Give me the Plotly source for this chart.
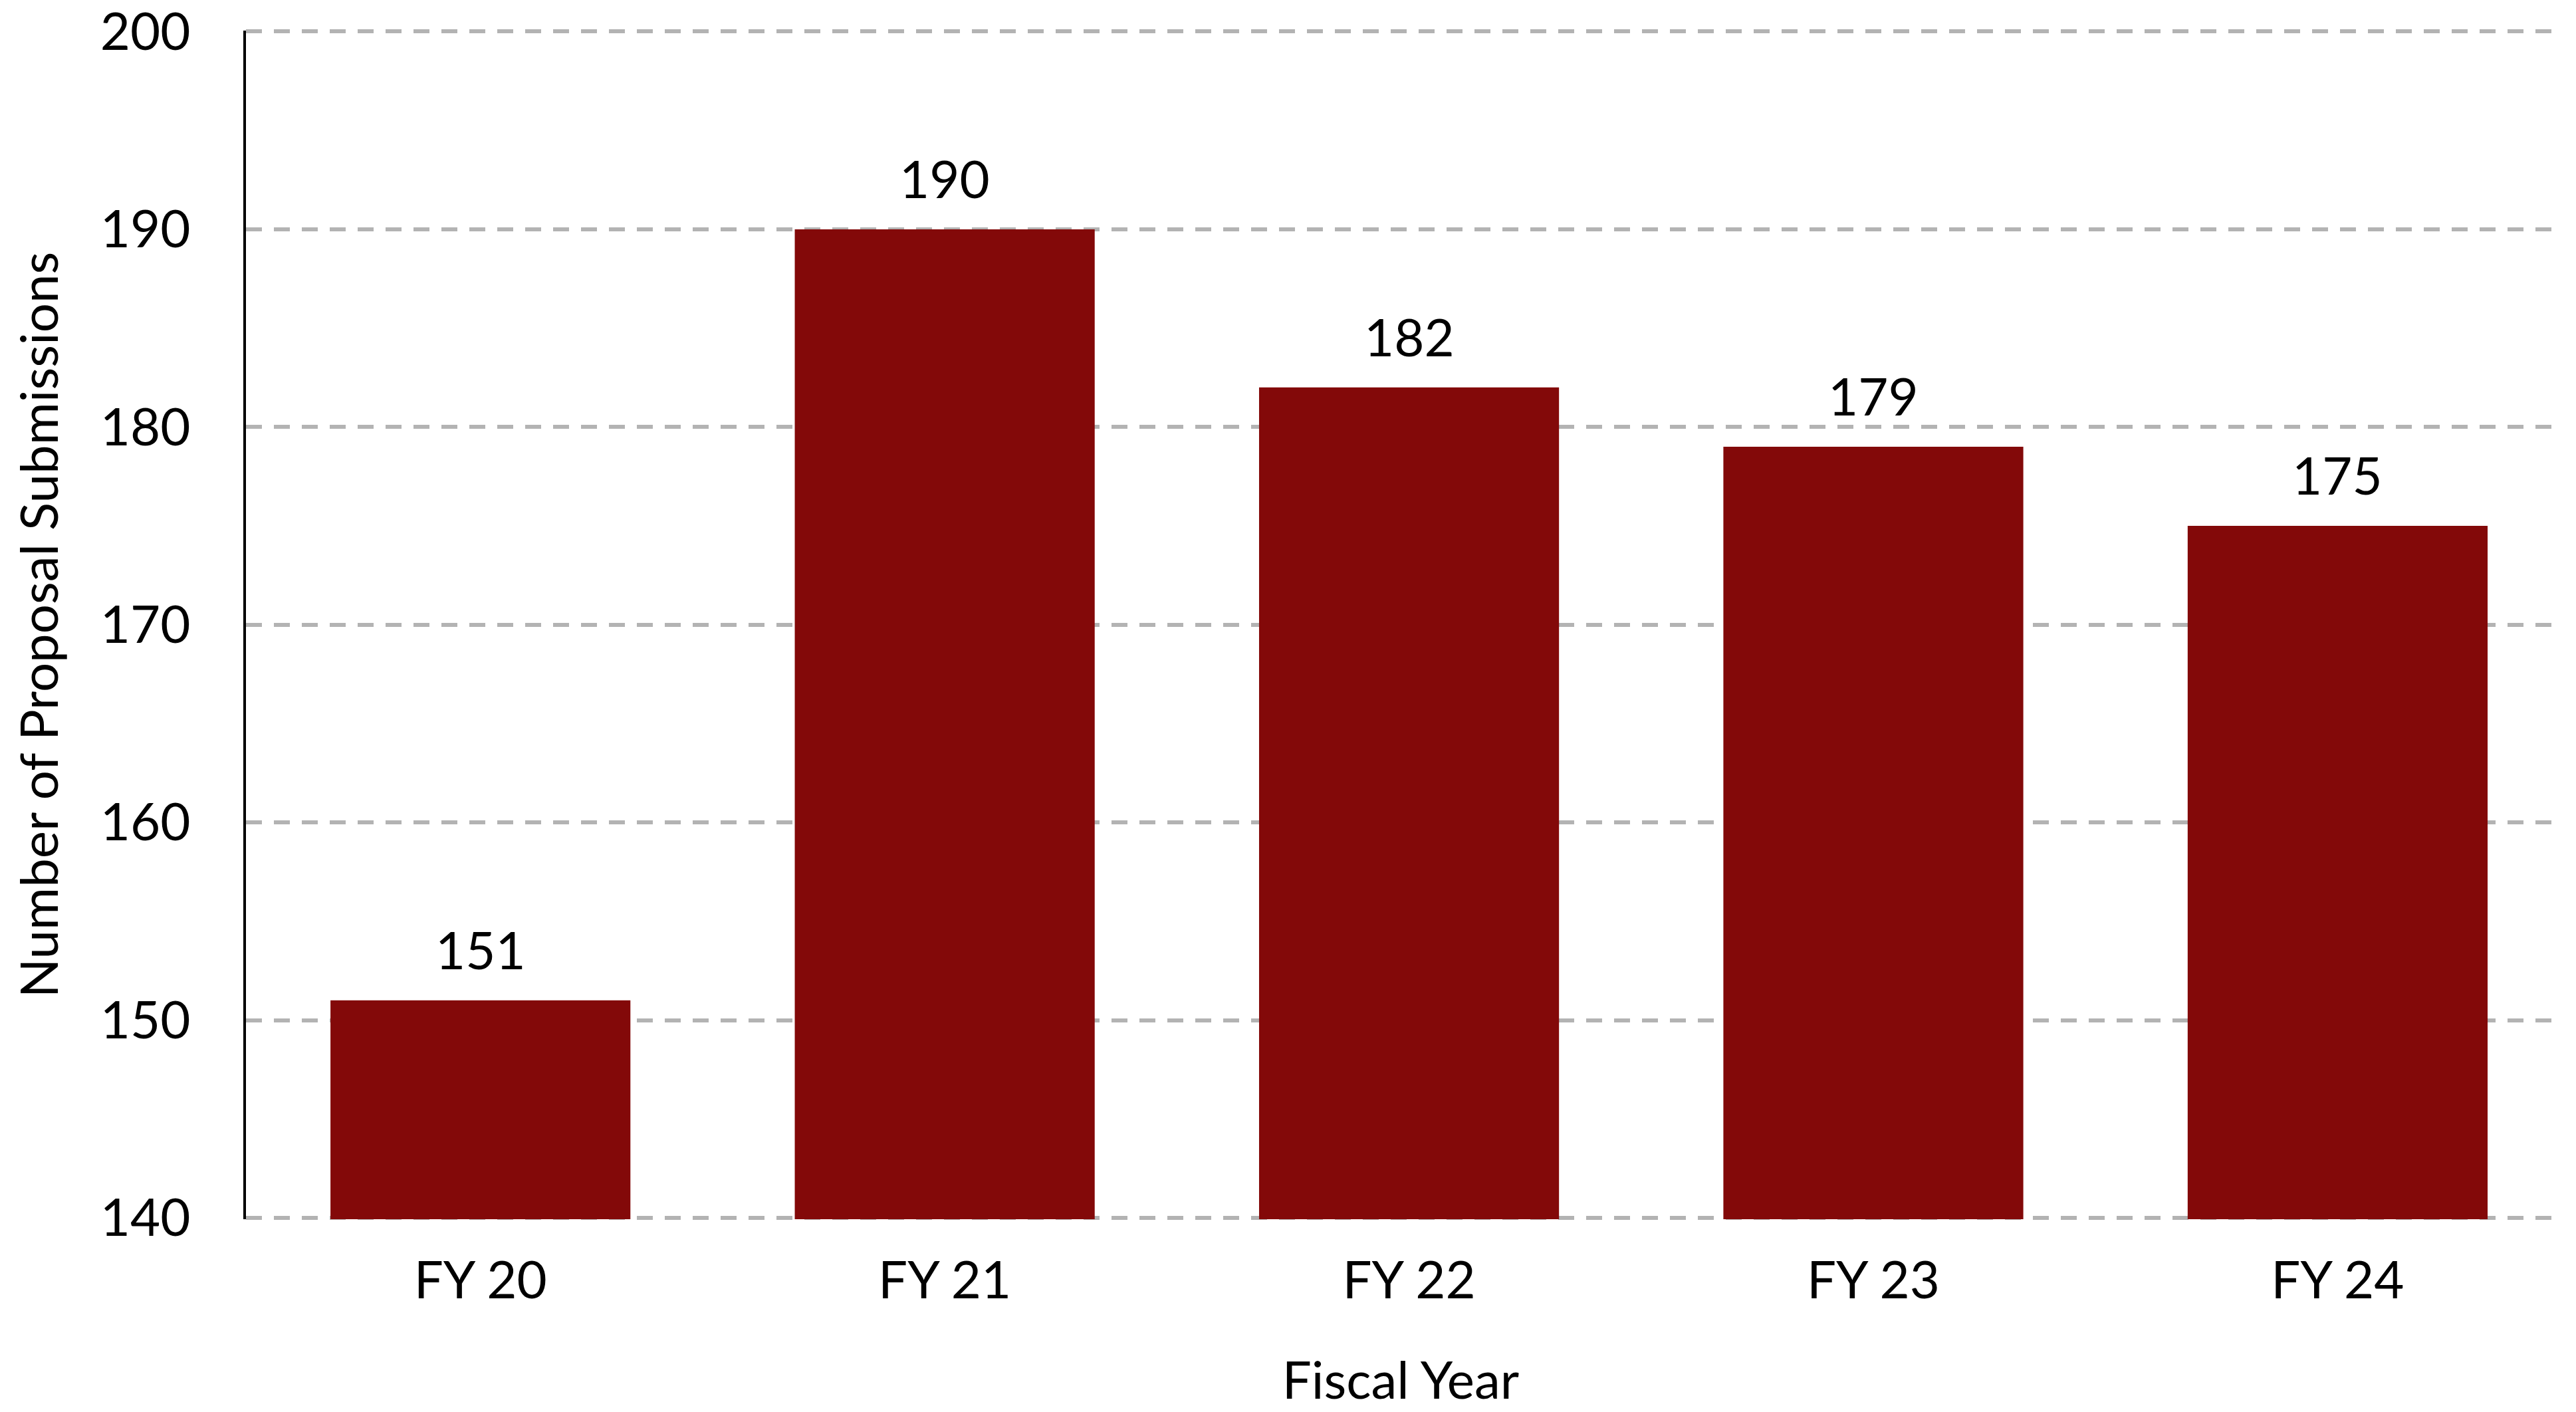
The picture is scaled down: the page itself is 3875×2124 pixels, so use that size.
import plotly.graph_objects as go

# Proposal submissions per fiscal year
fiscal_years = ["FY 20", "FY 21", "FY 22", "FY 23", "FY 24"]
submissions = [151, 190, 182, 179, 175]
y_ticks = [140, 150, 160, 170, 180, 190, 200]

BAR_COLOR = "#830909"
FONT = "Lato"
FS = 78

x_pos = list(range(len(fiscal_years)))

fig = go.Figure()
fig.add_trace(go.Bar(
    x=x_pos,
    y=submissions,
    base=0,
    width=0.646,
    marker=dict(color=BAR_COLOR, line=dict(width=0)),
    hoverinfo="skip",
))

# value labels above each bar
for xi, v in zip(x_pos, submissions):
    fig.add_annotation(
        x=xi, y=v, text=str(v), showarrow=False,
        xanchor="center", yanchor="bottom", yshift=28,
        font=dict(family=FONT, size=FS, color="black"),
    )

fig.update_layout(
    width=3875, height=2124,
    margin=dict(l=370, r=3875 - 3844, t=46, b=2124 - 1834),
    plot_bgcolor="white", paper_bgcolor="white",
    showlegend=False,
    font=dict(family=FONT, size=FS, color="black"),
)

fig.update_xaxes(
    range=[-0.505, 4.469],
    tickvals=x_pos, ticktext=fiscal_years,
    automargin=False,
    showgrid=False, zeroline=False, showline=False,
    ticks="", ticklabelstandoff=40,
    tickfont=dict(family=FONT, size=FS, color="black"),
    title=dict(text="Fiscal Year", standoff=80,
               font=dict(family=FONT, size=FS, color="black")),
)

fig.update_yaxes(
    range=[139.93, 200.05],
    tickvals=y_ticks,
    automargin=False,
    ticklabeloverflow="allow",
    showgrid=True, gridcolor="#b3b3b3", gridwidth=6, griddash="24px,18px",
    zeroline=False,
    showline=True, linecolor="black", linewidth=4,
    ticks="", ticklabelstandoff=64,
    tickfont=dict(family=FONT, size=FS, color="black"),
    title=dict(text="Number of Proposal Submissions", standoff=38,
               font=dict(family=FONT, size=FS, color="black")),
)

fig.write_html("out.html")
